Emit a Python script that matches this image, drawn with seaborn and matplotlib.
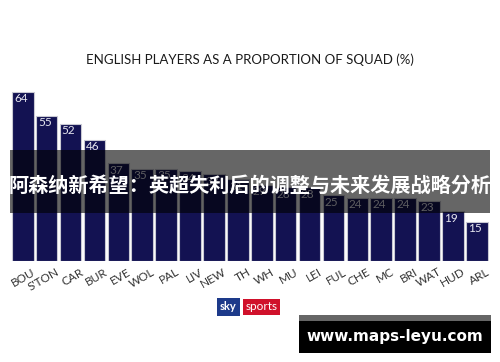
import matplotlib
matplotlib.use("Agg")
import matplotlib.pyplot as plt
import matplotlib.transforms as mtransforms
from matplotlib.patches import Rectangle
import seaborn as sns
import pandas as pd

teams = ["BOU", "S'TON", "CAR", "BUR", "EVE", "WOL", "PAL", "LIV", "NEW", "TH",
         "WH", "MU", "LEI", "FUL", "CHE", "MC", "BRI", "WAT", "HUD", "ARL"]
values = [64, 55, 52, 46, 37, 35, 35, 34, 33, 31,
          29, 28, 28, 25, 24, 24, 24, 23, 19, 15]
title = "ENGLISH PLAYERS AS A PROPORTION OF SQUAD (%)"
banner = "阿森纳新希望：英超失利后的调整与未来发展战略分析"
watermark = "www.maps-leyu.com"

sns.set_theme(style="white")
plt.rcParams["font.family"] = ["Lato", "DejaVu Sans"]

df = pd.DataFrame({"team": teams, "value": values})

W, H = 500, 362
fig = plt.figure(figsize=(5.0, 3.62), dpi=100)
fig.patch.set_facecolor("white")

left_px, right_px = 10.8, 488.8
bottom_px, top_px = 261.4, 76.1
ax = fig.add_axes([left_px / W, (H - bottom_px) / H,
                   (right_px - left_px) / W, (bottom_px - top_px) / H])

sns.barplot(data=df, x="team", y="value", color="#131252", saturation=1,
            width=0.9, edgecolor="#c9c9d3", linewidth=0.8, ax=ax)
ax.set_xlim(-0.5, len(teams) - 0.5)
ax.set_ylim(0, 70)
for s in ax.spines.values():
    s.set_visible(False)
ax.set_yticks([])
ax.set_xlabel("")
ax.set_ylabel("")
ax.tick_params(axis="x", length=0, pad=2)
ax.set_xticks(range(len(teams)))
ax.set_xticklabels(teams, rotation=30, ha="right", va="top",
                   rotation_mode="anchor", fontsize=8.5, color="#333333")
offset = mtransforms.ScaledTranslation(9 / 100, -2 / 100, fig.dpi_scale_trans)
for lab in ax.get_xticklabels():
    lab.set_transform(lab.get_transform() + offset)

for i, v in enumerate(values):
    ax.annotate(str(v), xy=(i - 0.45, v), xytext=(2, -1.5),
                textcoords="offset pixels", ha="left", va="top",
                fontsize=8.5, color="#e8e8f0")

fig.text(0.5, (H - 60) / H, title, ha="center", va="center",
         fontsize=9.5, color="#1a1a1a")

# sky sports logo
fig.text(228.5 / W, (H - 307) / H, "sky", ha="center", va="center",
         fontsize=8, fontweight="bold", color="white",
         bbox=dict(boxstyle="square,pad=0.3", fc="#1d3a8a", ec="none"))
fig.text(261.5 / W, (H - 307) / H, "sports", ha="center", va="center",
         fontsize=8.5, color="white",
         bbox=dict(boxstyle="square,pad=0.25", fc="#d0112b", ec="none"))

# banner overlay
fig.patches.append(Rectangle((10 / W, (H - 213) / H), 480 / W, 63 / H,
                             transform=fig.transFigure, fc="black",
                             alpha=0.6, ec="none", zorder=5))
fig.text(0.5, (H - 185) / H, banner, ha="center", va="center",
         fontsize=14.5, fontweight="bold", color="white", zorder=6,
         family=["Noto Sans CJK SC", "DejaVu Sans"])

# watermark
fig.patches.append(Rectangle((299 / W, (H - 321) / H), 192 / W, 6 / H,
                             transform=fig.transFigure, fc="#666666",
                             ec="none", zorder=5))
fig.patches.append(Rectangle((299 / W, (H - 353) / H), 192 / W, 32 / H,
                             transform=fig.transFigure, fc="black",
                             ec="none", zorder=5))
fig.text(395 / W, (H - 337) / H, watermark, ha="center", va="center",
         fontsize=11, fontweight="bold", color="white", zorder=6,
         family=["DejaVu Sans"])

fig.savefig("out.png", dpi=100, facecolor="white")
